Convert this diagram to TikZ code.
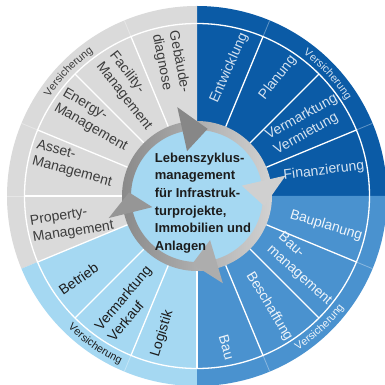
\documentclass[tikz,border=0pt]{standalone}
\usepackage{fontspec}
\setmainfont{Liberation Sans}
\usetikzlibrary{decorations.text}
\definecolor{segGray}{HTML}{DADADA}
\definecolor{segDark}{HTML}{0B5BA6}
\definecolor{segMid}{HTML}{4A92CF}
\definecolor{segLight}{HTML}{A5D8F2}
\definecolor{txtGray}{HTML}{3C3C3C}
\definecolor{txtDark}{HTML}{D4E2F0}
\definecolor{txtMid}{HTML}{EEF4FA}
\definecolor{txtLight}{HTML}{1C1C1C}
\definecolor{ringDark}{HTML}{8A8A8A}
\definecolor{ringLight}{HTML}{D2D2D2}
\begin{document}
\begin{tikzpicture}[x=1pt,y=1pt,
  lbl/.style={inner sep=0pt, align=left, font=\fontsize{14}{17}\selectfont},
  sep/.style={white, line width=1.3pt},
  faint/.style={white, opacity=.35, line width=.8pt},
  vers/.style={decorate, decoration={text along path, text align=center,
    text={|\fontsize{10.8}{12}\selectfont|Versicherung}, text color=#1}}]
\useasboundingbox (-197,-189) rectangle (188,196);
\clip (-197,-189) rectangle (188,196);
\fill[white] (-197,-189) rectangle (188,196);
\fill[segDark] (0,0) -- (0:190) arc[start angle=0, end angle=90, radius=190] -- cycle;
\fill[segGray] (0,0) -- (90:190) arc[start angle=90, end angle=202.5, radius=190] -- cycle;
\fill[segLight] (0,0) -- (202.5:190) arc[start angle=202.5, end angle=270, radius=190] -- cycle;
\fill[segMid] (0,0) -- (270:190) arc[start angle=270, end angle=360, radius=190] -- cycle;
\draw[sep] (0,0) circle (172.5);
\draw[sep] (22.5:75) -- (22.5:172.5);
\draw[sep] (45:75) -- (45:172.5);
\draw[sep] (67.5:75) -- (67.5:172.5);
\draw[sep] (112.5:75) -- (112.5:172.5);
\draw[sep] (135:75) -- (135:172.5);
\draw[sep] (157.5:75) -- (157.5:172.5);
\draw[sep] (180:75) -- (180:172.5);
\draw[sep] (202.5:75) -- (202.5:172.5);
\draw[sep] (225:75) -- (225:172.5);
\draw[sep] (247.5:75) -- (247.5:172.5);
\draw[sep] (270:75) -- (270:172.5);
\draw[sep] (292.5:75) -- (292.5:172.5);
\draw[sep] (315:75) -- (315:172.5);
\draw[sep] (337.5:75) -- (337.5:172.5);
\draw[faint] (22.5:172.5) -- (22.5:190);
\draw[faint] (67.5:172.5) -- (67.5:190);
\draw[faint] (112.5:172.5) -- (112.5:190);
\draw[faint] (157.5:172.5) -- (157.5:190);
\draw[faint] (180:172.5) -- (180:190);
\draw[faint] (247.5:172.5) -- (247.5:190);
\draw[faint] (292.5:172.5) -- (292.5:190);
\draw[faint] (337.5:172.5) -- (337.5:190);
\fill[segLight] (0,0) circle (70);
\shade[left color=ringDark, right color=ringLight, even odd rule] (0,0) circle (75) (0,0) circle (66);
\fill[ringDark!98!black] (102.5:46) -- (102.5:91) -- (81:68) -- cycle;
\fill[ringLight!104!white] (13:46) -- (13:91) -- (-8.5:68) -- cycle;
\fill[ringDark!70!white] (-73.5:46) -- (-73.5:91) -- (-94:68) -- cycle;
\fill[ringDark!90!white] (194:46) -- (194:91) -- (177:68) -- cycle;
\node[anchor=north west, inner sep=0pt, align=left, font=\fontsize{13}{17.7}\selectfont\bfseries, txtLight] (lzm) at (-42.3,43.5) {Lebenszyklus-\\management\\für Infrastruk-\\turprojekte,\\Immobilien und\\Anlagen};
\node[lbl, txtGray, anchor=west, rotate=-79] (gebd) at (101.2:166.5) {Gebäude-\\diagnose};
\node[lbl, txtGray, anchor=west, rotate=-52] (facm) at (123.7:165) {Facility-\\Management};
\node[lbl, txtGray, anchor=west, rotate=-30] (enem) at (145:168) {Energy-\\Management};
\node[lbl, txtGray, anchor=west, rotate=-15] (assm) at (165.3:168) {Asset-\\Management};
\node[lbl, txtGray, anchor=west, rotate=9] (prom) at (191.7:169) {Property-\\Management};
\node[lbl, txtLight, anchor=west, rotate=35] (betr) at (215:167) {Betrieb};
\node[lbl, txtLight, anchor=west, rotate=50] (vvka) at (235.9:166.5) {Vermarktung\\Verkauf};
\node[lbl, txtLight, anchor=west, rotate=73] (logi) at (255.4:166) {Logistik};
\node[lbl, txtDark, anchor=east, rotate=66] (entw) at (73.7:169) {Entwicklung};
\node[lbl, txtDark, anchor=east, rotate=52] (plan) at (55.1:169) {Planung};
\node[lbl, txtDark, anchor=east, rotate=29] (vvmi) at (32.3:170) {Vermarktung\\Vermietung};
\node[lbl, txtDark, anchor=east, rotate=7] (fina) at (10.2:170) {Finanzierung};
\node[lbl, txtMid, anchor=east, rotate=-17] (bplan) at (-13.8:170) {Bauplanung};
\node[lbl, txtMid, anchor=east, rotate=-42] (bman) at (-36:171) {Bau-\\management};
\node[lbl, txtMid, anchor=east, rotate=-59] (besch) at (-57.3:171) {Beschaffung};
\node[lbl, txtMid, anchor=east, rotate=-74] (bau) at (-78.6:167) {Bau};
\path[vers=txtGray] (151:177.5) arc[start angle=151, end angle=121, radius=177.5];
\path[vers=txtDark] (58:177.5) arc[start angle=58, end angle=28, radius=177.5];
\path[vers=txtLight] (220.5:184.5) arc[start angle=220.5, end angle=250.5, radius=184.5];
\path[vers=txtMid] (-62:184.5) arc[start angle=-62, end angle=-32, radius=184.5];
\end{tikzpicture}
\end{document}
